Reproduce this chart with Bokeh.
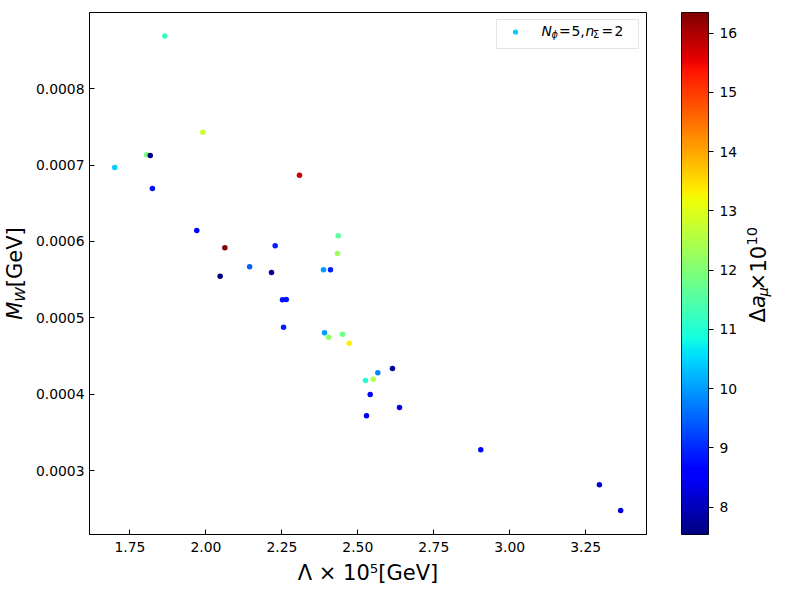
import numpy as np
from bokeh.plotting import figure
from bokeh.models import (ColumnDataSource, Range1d, FixedTicker, PrintfTickFormatter,
                          LinearColorMapper, Legend, LegendItem, Label)
from bokeh.layouts import row
from bokeh.transform import linear_cmap
from bokeh.embed import file_html
from bokeh.resources import INLINE

# ---- data ----
lam = [1.865, 1.990, 1.805, 1.817, 1.700, 1.824, 2.308, 1.970, 2.0625, 2.228,
       2.4355, 2.433, 2.144, 2.047, 2.216, 2.387, 2.410, 2.252, 2.2645, 2.2556,
       2.3905, 2.4036, 2.4497, 2.4717, 2.614, 2.5658, 2.5253, 2.5507, 2.5408, 2.6372,
       2.5286, 2.9046, 3.295, 3.365]
mw = [0.000869, 0.000743, 0.0007136, 0.0007126, 0.000697, 0.0006694, 0.0006868, 0.0006144, 0.0005918, 0.0005944,
      0.0006075, 0.0005843, 0.0005669, 0.0005546, 0.0005594, 0.000563, 0.000563, 0.0005236, 0.000524, 0.0004878,
      0.0004804, 0.0004747, 0.0004786, 0.0004668, 0.0004337, 0.000428, 0.000418, 0.0004196, 0.0003996, 0.0003826,
      0.0003717, 0.0003272, 0.0002813, 0.0002477]
da = [11.2, 12.8, 11.9, 7.6, 10.4, 8.8, 15.8, 8.7, 16.35, 8.9,
      11.6, 12.3, 9.5, 7.54, 7.7, 10.0, 8.9, 8.8, 8.8, 8.9,
      10.0, 12.2, 11.8, 13.3, 7.8, 9.8, 11.0, 12.5, 8.6, 8.3,
      8.5, 8.7, 8.2, 8.2]

x_ticks = [1.75, 2.00, 2.25, 2.50, 2.75, 3.00, 3.25]
y_ticks = [0.0003, 0.0004, 0.0005, 0.0006, 0.0007, 0.0008]
cb_ticks = [8, 9, 10, 11, 12, 13, 14, 15, 16]
x_lim = (1.617, 3.450)
y_lim = (0.0002162, 0.0008999)

FONT = "DejaVu Sans"
TOP, BOTTOM, FH = 12, 58, 522

# ---- jet colormap ----
_jet = {
    "r": [(0.0, 0.0), (0.35, 0.0), (0.66, 1.0), (0.89, 1.0), (1.0, 0.5)],
    "g": [(0.0, 0.0), (0.125, 0.0), (0.375, 1.0), (0.64, 1.0), (0.91, 0.0), (1.0, 0.0)],
    "b": [(0.0, 0.5), (0.11, 1.0), (0.34, 1.0), (0.65, 0.0), (1.0, 0.0)],
}
_t = np.linspace(0, 1, 256)
def _ch(k):
    pts = _jet[k]
    return np.interp(_t, [p[0] for p in pts], [p[1] for p in pts])
_r, _g, _b = _ch("r"), _ch("g"), _ch("b")
jet256 = ["#%02x%02x%02x" % (int(round(a * 255)), int(round(b * 255)), int(round(c * 255)))
          for a, b, c in zip(_r, _g, _b)]

lo, hi = min(da), max(da)

source = ColumnDataSource(dict(x=lam, y=mw, c=da))


def lab(fig, x, y, text, size, style="normal", angle=0.0):
    fig.add_layout(Label(x=x, y=y, x_units="screen", y_units="screen", text=text,
                         text_font=FONT, text_font_size=f"{size}px", text_font_style=style,
                         text_color="black", angle=angle, text_align="left",
                         text_baseline="alphabetic", level="overlay"))


def label_panel(w):
    f = figure(frame_width=w, frame_height=FH, min_border_left=0, min_border_right=0,
               min_border_top=TOP, min_border_bottom=BOTTOM, x_range=Range1d(0, 1), y_range=Range1d(0, 1),
               x_axis_location=None, y_axis_location=None, output_backend="svg",
               toolbar_location=None, tools="", title=None)
    f.outline_line_color = None
    for g in f.grid:
        g.visible = False
    return f


ang = np.pi / 2

# ---- y-axis label panel  M_W[GeV] ----
pY = label_panel(32)
lab(pY, 14, 214.7, "M", 21, "italic", ang)
lab(pY, 19.4, 232.8, "W", 14.7, "italic", ang)
lab(pY, 14, 247.3, "[GeV]", 21, "normal", ang)

# ---- main figure ----
p1 = figure(frame_width=557, frame_height=FH, min_border_left=56, min_border_right=35,
            min_border_top=TOP, min_border_bottom=BOTTOM, x_range=Range1d(*x_lim), y_range=Range1d(*y_lim),
            output_backend="svg", toolbar_location=None, tools="", title=None)
p1.xgrid.visible = False
p1.ygrid.visible = False
p1.outline_line_color = "black"
p1.outline_line_width = 1
p1.outline_line_alpha = 1

for ax in (p1.xaxis, p1.yaxis):
    ax.major_tick_in = 5
    ax.major_tick_out = 0
    ax.minor_tick_line_color = None
    ax.axis_line_color = "black"
    ax.major_tick_line_color = "black"
    ax.major_label_text_font = FONT
    ax.major_label_text_font_size = "13.9px"
    ax.major_label_text_color = "black"

p1.xaxis.ticker = FixedTicker(ticks=x_ticks)
p1.xaxis.formatter = PrintfTickFormatter(format="%.2f")
p1.xaxis.major_label_standoff = 7
p1.yaxis.ticker = FixedTicker(ticks=y_ticks)
p1.yaxis.formatter = PrintfTickFormatter(format="%.4f")
p1.yaxis.major_label_standoff = 5

p1.xaxis.axis_label = "Λ × 10⁵[GeV]"
p1.xaxis.axis_label_text_font = FONT
p1.xaxis.axis_label_text_font_size = "21px"
p1.xaxis.axis_label_text_font_style = "normal"
p1.xaxis.axis_label_text_color = "black"
p1.xaxis.axis_label_standoff = 6

r = p1.scatter("x", "y", source=source, size=5.5, line_color=None,
               fill_color=linear_cmap("c", jet256, lo, hi))

legend = Legend(items=[LegendItem(label=" ", renderers=[r], index=4)],
                location="top_right", margin=7,
                padding=dict(left=4, right=4, top=4, bottom=10),
                glyph_width=28, glyph_height=13,
                label_height=14, label_standoff=12, label_width=93, label_text_font_size="1px",
                border_line_color="#cccccc", border_line_width=1,
                background_fill_color="white", background_fill_alpha=0.0)
p1.add_layout(legend)

# legend text  N_phi = 5, n_Sigma = 2
lb = 503.7
ls = 500.0
lab(p1, 452, lb, "N", 13.9, "italic")
lab(p1, 462, ls, "ϕ", 9.7, "italic")
lab(p1, 469.5, lb, "=", 13.9)
lab(p1, 482, lb, "5,", 13.9)
lab(p1, 496, lb, "n", 13.9, "italic")
lab(p1, 503.5, ls, "Σ", 9.7)
lab(p1, 512, lb, "=", 13.9)
lab(p1, 525, lb, "2", 13.9)

# ---- colour bar figure ----
p2 = figure(frame_width=27, frame_height=FH, min_border_left=0, min_border_right=30,
            min_border_top=TOP, min_border_bottom=BOTTOM, x_range=Range1d(0, 1), y_range=Range1d(lo, hi),
            x_axis_location=None, y_axis_location="right",
            output_backend="svg", toolbar_location=None, tools="", title=None)
p2.xgrid.visible = False
p2.ygrid.visible = False
grad = np.linspace(lo, hi, 256).reshape(-1, 1)
p2.image(image=[grad], x=0, y=lo, dw=1, dh=hi - lo,
         color_mapper=LinearColorMapper(palette=jet256, low=lo, high=hi))
p2.outline_line_color = "black"
p2.outline_line_width = 1
p2.outline_line_alpha = 1
ya = p2.yaxis[0]
ya.ticker = FixedTicker(ticks=cb_ticks)
ya.formatter = PrintfTickFormatter(format="%d")
ya.major_tick_out = 5
ya.major_tick_in = 0
ya.minor_tick_line_color = None
ya.axis_line_color = None
ya.major_label_text_font = FONT
ya.major_label_text_font_size = "13.9px"
ya.major_label_text_color = "black"
ya.major_label_standoff = 6

# ---- colour bar label panel  Δa_μ × 10^10 ----
pC = label_panel(35)
lab(pC, 17, 212, "Δ", 21, "normal", ang)
lab(pC, 17, 226.5, "a", 21, "italic", ang)
lab(pC, 22.4, 238, "μ", 14.7, "italic", ang)
lab(pC, 17, 244, "×", 21, "normal", ang)
lab(pC, 17, 262, "10", 21, "normal", ang)
lab(pC, 11.1, 289, "10", 14.7, "normal", ang)

layout = row(pY, p1, p2, pC)
open("out.html", "w").write(file_html(layout, INLINE))
